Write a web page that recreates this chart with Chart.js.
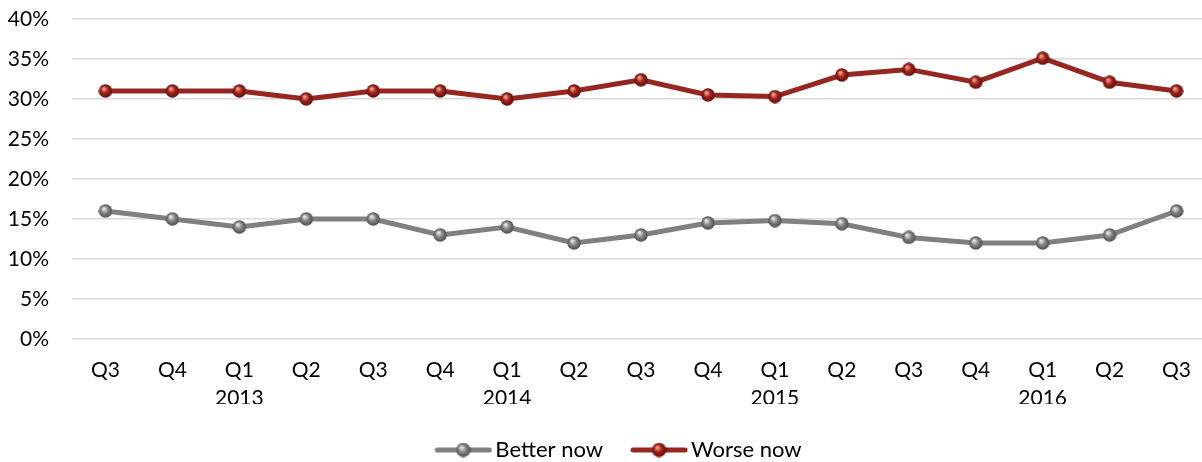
<!DOCTYPE html>
<html>
<head>
<meta charset="utf-8">
<script src="https://cdn.jsdelivr.net/npm/chart.js@4/dist/chart.umd.min.js"></script>
<style>
  html, body { margin: 0; padding: 0; background: #fff; overflow: hidden; }
  #wrap { width: 1210px; height: 462px; position: relative; }
</style>
</head>
<body>
<div id="wrap"><canvas id="chart"></canvas></div>
<script>
// Quarter labels, year shown under each Q1
const quarters = [
  ['Q3'], ['Q4'], ['Q1', '2013'], ['Q2'], ['Q3'], ['Q4'], ['Q1', '2014'], ['Q2'],
  ['Q3'], ['Q4'], ['Q1', '2015'], ['Q2'], ['Q3'], ['Q4'], ['Q1', '2016'], ['Q2'], ['Q3']
];
// Share of respondents (%)
const betterNow = [16, 15, 14, 15, 15, 13, 14, 12, 13, 14.5, 14.8, 14.4, 12.7, 12, 12, 13, 16];
const worseNow  = [31, 31, 31, 30, 31, 31, 30, 31, 32.4, 30.5, 30.3, 33, 33.7, 32.1, 35.1, 32.1, 31];
const yTicks = [0, 5, 10, 15, 20, 25, 30, 35, 40];

const FONT = 'Lato, "Open Sans", sans-serif';
const FONT_SIZE = 21;

// Shaded sphere used as the point marker
function sphere(base, light, dark, d) {
  const c = document.createElement('canvas');
  c.width = d; c.height = d;
  const g = c.getContext('2d');
  const r = d / 2;
  const grad = g.createRadialGradient(r * 0.75, r * 0.65, r * 0.1, r, r, r);
  grad.addColorStop(0, light);
  grad.addColorStop(0.45, base);
  grad.addColorStop(1, dark);
  g.fillStyle = grad;
  g.beginPath();
  g.arc(r, r, r - 0.3, 0, Math.PI * 2);
  g.fill();
  return c;
}

// Legend icon: a short line segment with the sphere in the middle
function legendIcon(lineColor, ball) {
  const w = 58, h = 16;
  const c = document.createElement('canvas');
  c.width = w; c.height = h;
  const g = c.getContext('2d');
  g.strokeStyle = lineColor;
  g.lineWidth = 5;
  g.lineCap = 'round';
  g.beginPath();
  g.moveTo(3, h / 2); g.lineTo(w - 3, h / 2);
  g.stroke();
  g.drawImage(ball, (w - ball.width) / 2, (h - ball.height) / 2);
  return c;
}

const grayBall = sphere('#858585', '#e6e6e6', '#4a4a4a', 14);
const redBall  = sphere('#a0241c', '#f0a090', '#5a0f0a', 14);
const grayIcon = legendIcon('#808080', sphere('#858585', '#e6e6e6', '#4a4a4a', 15));
const redIcon  = legendIcon('#962620', sphere('#a0241c', '#f0a090', '#5a0f0a', 15));

// Nudge the legend row a little to the right of the canvas centre
const legendShift = {
  id: 'legendShift',
  afterLayout(chart) {
    const lg = chart.legend;
    if (lg) { lg.left += 17; lg.right += 17; }
  }
};

new Chart(document.getElementById('chart'), {
  type: 'line',
  plugins: [legendShift],
  data: {
    labels: quarters,
    datasets: [
      {
        label: 'Better now',
        data: betterNow,
        borderColor: '#808080',
        backgroundColor: '#808080',
        borderWidth: 5,
        pointStyle: grayBall,
        pointRadius: 7,
        tension: 0,
        legendIcon: grayIcon
      },
      {
        label: 'Worse now',
        data: worseNow,
        borderColor: '#962620',
        backgroundColor: '#962620',
        borderWidth: 5,
        pointStyle: redBall,
        pointRadius: 7,
        tension: 0,
        legendIcon: redIcon
      }
    ]
  },
  options: {
    responsive: true,
    maintainAspectRatio: false,
    animation: false,
    layout: { autoPadding: false, padding: { top: 19, left: 0, right: 0, bottom: -9 } },
    scales: {
      x: {
        offset: true,
        grid: { display: false, drawTicks: false },
        border: { display: false },
        afterFit: axis => { axis.paddingLeft = 0; axis.paddingRight = 0; axis.height = 65; },
        ticks: {
          color: '#000',
          font: { family: FONT, size: FONT_SIZE, lineHeight: 1.3 },
          padding: 18,
          maxRotation: 0,
          autoSkip: false
        }
      },
      y: {
        min: yTicks[0],
        max: yTicks[yTicks.length - 1],
        afterBuildTicks: axis => { axis.ticks = yTicks.map(v => ({ value: v })); },
        afterFit: axis => { axis.width = 72; axis.paddingTop = 0; axis.paddingBottom = 0; },
        grid: { color: '#d9d9d9', lineWidth: 1.5, drawTicks: false },
        border: { display: false },
        ticks: {
          color: '#000',
          font: { family: FONT, size: FONT_SIZE },
          padding: 23,
          callback: v => v + '%'
        }
      }
    },
    plugins: {
      tooltip: { enabled: false },
      legend: {
        position: 'bottom',
        labels: {
          color: '#000',
          font: { family: FONT, size: 22 },
          usePointStyle: true,
          pointStyleWidth: 42,
          boxHeight: 16,
          padding: 35,
          generateLabels: chart => chart.data.datasets.map((ds, i) => ({
            text: ds.label,
            pointStyle: ds.legendIcon,
            fillStyle: ds.borderColor,
            strokeStyle: ds.borderColor,
            lineWidth: 0,
            hidden: false,
            datasetIndex: i
          }))
        }
      }
    }
  }
});
</script>
</body>
</html>
